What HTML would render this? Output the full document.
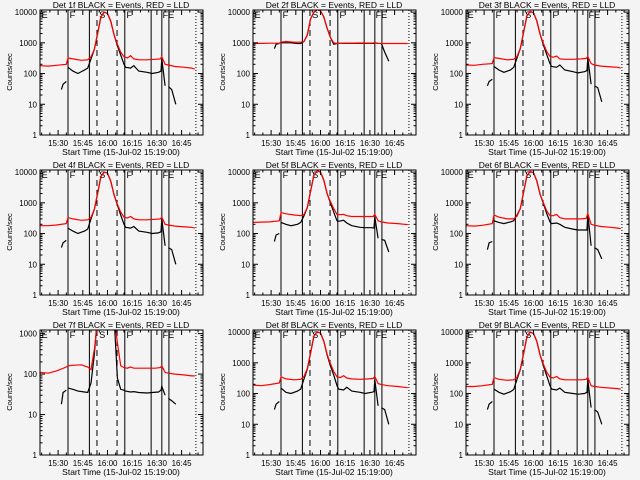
<!DOCTYPE html>
<html><head><meta charset="utf-8">
<style>
html,body{margin:0;padding:0;background:#f4f4f4;}
svg{display:block;font-family:"Liberation Sans",sans-serif;}
</style></head>
<body>
<svg id="chart" width="640" height="480" viewBox="0 0 640 480" xmlns="http://www.w3.org/2000/svg">
<rect x="0" y="0" width="640" height="480" fill="#f4f4f4"/>
</svg>
<script>
// ---- data (minutes after 15:19:00, counts/sec) ----
const detectorNames = ["Det 1f","Det 2f","Det 3f","Det 4f","Det 5f","Det 6f","Det 7f","Det 8f","Det 9f"];
const xTickLabels = ["15:30","15:45","16:00","16:15","16:30","16:45"];
const xTickMinutes = [11,26,41,56,71,86];
const yMaxStd = 11700;
const yMaxDet7 = 1230;
const solidLineMinutes = [17,30,51.5,67.5,74,78.3];
const dashedLineMinutes = [34.6,46.8];
const dottedLineMinute = 94.7;

const redT = [0,5,10,16,17,20,25,29,31,33,35,37,39,41,43,45,47,49,51,53,55,57,60,65,70,73,74,76,78,82,88,92,94];
const red1 = [180,175,185,200,320,300,270,280,350,600,2000,7000,10000,9000,5000,1800,900,500,350,320,380,300,280,280,290,300,350,200,190,170,160,150,140];
const red2 = [950,960,970,980,1050,1100,1050,1050,1100,1800,6000,10000,12000,11000,7000,3000,1500,1000,950,960,970,980,980,990,980,990,1000,960,950,950,950,950,950];
const red3 = [190,185,200,210,330,310,280,290,360,650,2200,7500,10500,9500,5200,1900,950,520,360,340,370,300,290,290,300,310,360,210,190,175,165,160,150];
const red4 = [180,180,190,210,330,300,270,280,340,600,2000,7200,10000,9200,5000,1800,900,500,340,320,360,300,280,280,290,300,340,200,190,175,165,160,150];
const red5 = [230,235,240,260,480,440,400,380,420,700,2400,8000,11000,10000,5500,2000,1100,650,420,410,420,380,360,360,360,360,420,260,240,220,210,200,195];
const red6 = [180,175,185,210,400,340,300,300,370,650,2200,7600,10500,9500,5200,1900,1000,550,380,380,420,330,300,300,300,310,450,200,185,170,160,150,145];
const red7 = [110,105,120,150,160,165,170,150,130,400,2000,3000,3000,3000,3000,2500,600,160,145,140,150,140,140,140,140,145,160,110,105,100,95,90,90];
const red8 = [190,180,195,220,350,300,280,290,360,650,2100,7400,10200,9300,5100,1900,950,520,350,330,380,320,300,290,300,310,360,210,195,180,170,160,155];
const red9 = [170,170,180,200,330,290,270,280,340,620,2000,7000,10000,9000,5000,1800,900,500,340,320,360,300,280,280,280,290,340,180,170,160,150,145,140];

const blackT = [13,14,16,17,20,23,27,29,31,33,35,37,39,41,43,45,47,49,51,52,55,57,60,65,68,72,73.5,74,76,78,80,82.5];
const black1 = [30,45,55,160,120,100,130,150,300,600,2000,7000,10000,9000,5000,1800,800,400,200,160,150,180,120,110,100,110,120,300,40,38,30,10];
const black2 = [650,900,950,1000,1000,1000,950,950,1100,1800,6000,10000,12000,11000,7000,3000,1500,900,950,960,960,960,960,960,960,960,960,1000,950,950,500,250];
const black3 = [40,55,65,170,130,110,130,160,320,650,2200,7500,10500,9500,5200,1900,850,420,210,170,160,190,130,115,105,115,125,320,45,40,35,12];
const black4 = [35,50,60,150,120,100,120,140,300,600,2000,7200,10000,9200,5000,1800,850,400,200,160,150,170,120,110,100,105,115,300,40,35,30,10];
const black5 = [55,90,100,230,200,180,200,230,380,700,2400,8000,11000,10000,5500,2000,1000,500,260,250,270,220,180,160,155,155,150,350,70,65,60,25];
const black6 = [30,50,55,260,230,210,240,260,400,650,2200,7600,10500,9500,5200,1900,950,450,240,210,220,200,160,140,130,130,130,450,40,35,30,15];
const black7 = [18,35,40,45,42,38,36,35,60,300,3000,3000,3000,3000,3000,2500,80,42,40,38,36,37,35,34,35,36,40,50,30,25,22,18];
const black8 = [30,45,55,150,110,100,120,140,300,620,2100,7400,10200,9300,5100,1800,800,400,180,140,130,160,120,110,100,110,115,280,40,35,30,10];
const black9 = [30,45,55,140,110,95,115,135,290,600,2000,7000,10000,9000,5000,1800,800,380,180,140,130,150,110,100,95,100,110,280,35,30,25,10];

const redSeries = [red1,red2,red3,red4,red5,red6,red7,red8,red9];
const blackSeries = [black1,black2,black3,black4,black5,black6,black7,black8,black9];

// ---- drawing ----
const svg = document.getElementById('chart');
const NS = 'http://www.w3.org/2000/svg';
const BX0 = 40, BX1 = 203, BY0 = 10, BY1 = 135, TMAX = 99;
function mk(tag, attrs, parent){ const e=document.createElementNS(NS,tag); for(const k in attrs) e.setAttribute(k,attrs[k]); parent.appendChild(e); return e; }

for (let p = 0; p < 9; p++) {
  const ox = (p % 3) * 213, oy = Math.floor(p / 3) * 160;
  const ymax = (p === 6) ? yMaxDet7 : yMaxStd;
  const lmax = Math.log10(ymax);
  const xs = t => ox + BX0 + (t / TMAX) * (BX1 - BX0);
  const ys = v => oy + BY1 - (Math.log10(Math.max(v,1)) / lmax) * (BY1 - BY0);
  const g = mk('g', {}, svg);
  
  
  const clipId = 'clip' + p;
  const cp = mk('clipPath', {id: clipId}, g);
  mk('rect', {x: ox+BX0, y: oy+BY0, width: BX1-BX0, height: BY1-BY0}, cp);

  // vertical event lines
  solidLineMinutes.forEach(t => {
    const l = mk('line', {x1: xs(t), x2: xs(t), y1: oy+BY0, y2: oy+BY1, stroke: '#000', 'stroke-width': 1}, g);
    
    
  });
  dashedLineMinutes.forEach(t => {
    const l = mk('line', {x1: xs(t), x2: xs(t), y1: oy+BY0, y2: oy+BY1, stroke: '#000', 'stroke-width': 1, 'stroke-dasharray': '6,4'}, g);
    
    
  });
  const dl = mk('line', {x1: xs(dottedLineMinute), x2: xs(dottedLineMinute), y1: oy+BY0, y2: oy+BY1, stroke: '#000', 'stroke-width': 1, 'stroke-dasharray': '1,2'}, g);
  
  

  // interval letters
  [['E',1],['F',18],['S',36],['F',52.5],['FE',74.5]].forEach(([s,t]) => {
    const tx = mk('text', {x: xs(t), y: oy+BY0+8, 'font-size': 9, fill: '#000'}, g);
    tx.textContent = s;
    
    
  });

  // black (events) series with gap
  let d = '';
  blackSeries[p].forEach((v, i) => {
    const t = blackT[i];
    const gapStart = (i > 0 && ((blackT[i-1] < 16.5 && t >= 16.5) || (blackT[i-1] < 77 && t >= 77)));
    d += (i === 0 || gapStart ? 'M' : 'L') + xs(t).toFixed(1) + ',' + ys(v).toFixed(1);
  });
  const bp = mk('path', {d: d, fill: 'none', stroke: '#000', 'stroke-width': 1.2, 'clip-path': 'url(#' + clipId + ')'}, g);
  
  

  // red (LLD) series
  d = '';
  redSeries[p].forEach((v, i) => { d += (i ? 'L' : 'M') + xs(redT[i]).toFixed(1) + ',' + ys(v).toFixed(1); });
  const rp = mk('path', {d: d, fill: 'none', stroke: '#ff0000', 'stroke-width': 1.2, 'clip-path': 'url(#' + clipId + ')'}, g);
  
  

  // box
  const box = mk('rect', {x: ox+BX0, y: oy+BY0, width: BX1-BX0, height: BY1-BY0, fill: 'none', stroke: '#000', 'stroke-width': 1}, g);
  
  

  // y ticks
  for (let dec = 0; dec <= Math.floor(lmax); dec++) {
    const v = Math.pow(10, dec), y = ys(v);
    mk('line', {x1: ox+BX0, x2: ox+BX0+5, y1: y, y2: y, stroke: '#000'}, g);
    mk('line', {x1: ox+BX1, x2: ox+BX1-5, y1: y, y2: y, stroke: '#000'}, g);
    const lab = mk('text', {x: ox+BX0-3, y: y+3, 'font-size': 8, 'text-anchor': 'end', fill: '#000'}, g);
    lab.textContent = String(v);
    
    
    for (let m = 2; m <= 9; m++) {
      const mv = v * m; if (mv > ymax) break;
      const my = ys(mv);
      mk('line', {x1: ox+BX0, x2: ox+BX0+2.5, y1: my, y2: my, stroke: '#000'}, g);
      mk('line', {x1: ox+BX1, x2: ox+BX1-2.5, y1: my, y2: my, stroke: '#000'}, g);
    }
  }
  // x ticks
  for (let t = 1; t < TMAX; t += 5) {
    const major = xTickMinutes.includes(t), len = major ? 5 : 2.5;
    mk('line', {x1: xs(t), x2: xs(t), y1: oy+BY1, y2: oy+BY1-len, stroke: '#000'}, g);
    mk('line', {x1: xs(t), x2: xs(t), y1: oy+BY0, y2: oy+BY0+len, stroke: '#000'}, g);
  }
  xTickLabels.forEach((s, i) => {
    const lab = mk('text', {x: xs(xTickMinutes[i]), y: oy+BY1+11, 'font-size': 8, 'text-anchor': 'middle', fill: '#000'}, g);
    lab.textContent = s;
    
    
  });
  const xt = mk('text', {x: ox+121, y: oy+BY1+20, 'font-size': 8.5, 'text-anchor': 'middle', fill: '#000'}, g);
  xt.textContent = 'Start Time (15-Jul-02 15:19:00)';
  
  
  const yt = mk('text', {x: 0, y: 0, 'font-size': 7.5, 'text-anchor': 'middle', fill: '#000', transform: 'translate(' + (ox+12) + ',' + (oy+72) + ') rotate(-90)'}, g);
  yt.textContent = 'Counts/sec';
  
  
  const tt = mk('text', {x: ox+121, y: oy+8, 'font-size': 8.5, 'text-anchor': 'middle', fill: '#000'}, g);
  tt.textContent = detectorNames[p] + ' BLACK = Events, RED = LLD';
  
  
}
</script>
</body></html>
